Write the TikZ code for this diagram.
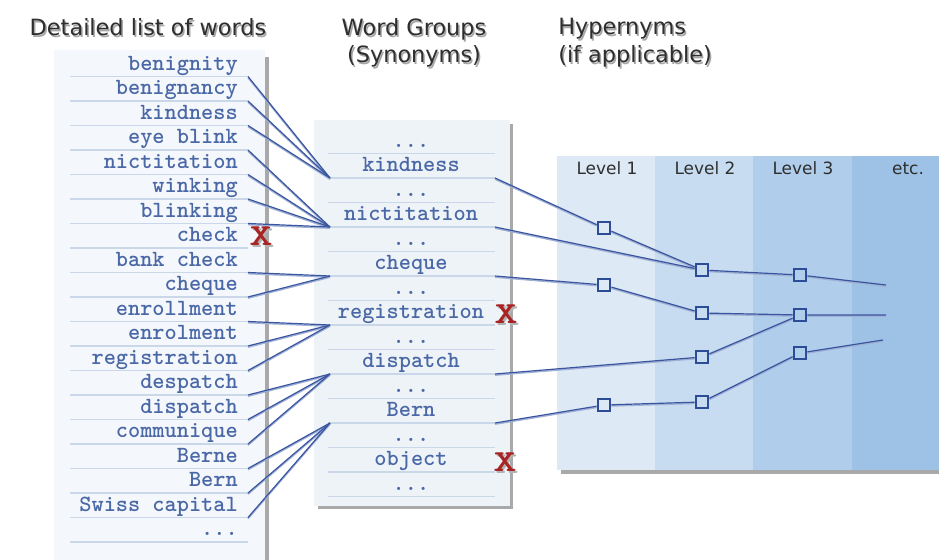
\documentclass[tikz,border=0pt]{standalone}
\usepackage{fontspec}
\setmainfont{DejaVu Sans}
% three monospaced dots, kept in a macro so that \foreach does not read them as a range
\newcommand\wdots{...}
% wide bold cross for discarded entries
\newcommand\crossmark{\scalebox{1.45}[1]{X}}

\definecolor{wordc}{HTML}{4A68A6}
\definecolor{rulec}{HTML}{C9D7E8}
\definecolor{linkc}{HTML}{3A55A0}
\definecolor{linksh}{HTML}{9FB0D4}
\definecolor{sqc}{HTML}{2C4D96}
\definecolor{levA}{HTML}{DDE9F5}
\definecolor{levB}{HTML}{C7DCF0}
\definecolor{levC}{HTML}{B0CEEB}
\definecolor{levD}{HTML}{9DC2E6}
\definecolor{panelL}{HTML}{F4F7FB}
\definecolor{panelM}{HTML}{EEF3F8}
\definecolor{shadowc}{HTML}{A9A9A9}
\definecolor{xred}{HTML}{A82424}
\definecolor{headc}{HTML}{2E2E2E}

\begin{document}
\begin{tikzpicture}[x=0.75pt, y=-0.75pt,
  word/.style={font=\ttfamily\bfseries\fontsize{17.4}{20}\selectfont, text=wordc, inner sep=0pt},
  rule/.style={draw=rulec, line width=0.8pt},
  link/.style={draw=linkc, line width=0.9pt,
    preaction={draw=linksh, line width=1.1pt, transform canvas={yshift=-0.9pt}}},
  hyper/.style={draw=sqc, line width=1.6pt, minimum size=9.5pt, inner sep=0pt},
  head/.style={font=\fontsize{16.8}{20}\selectfont, text=headc, inner sep=0pt, anchor=base},
  headsh/.style={head, text=black!35},
  level/.style={font=\fontsize{12.7}{15}\selectfont, text=headc, inner sep=0pt, anchor=base},
  xmark/.style={font=\ttfamily\bfseries\fontsize{23}{23}\selectfont, text=xred, inner sep=0pt},
  xmarksh/.style={xmark, text=black!30}]

\useasboundingbox (0,0) rectangle (939,560);
\fill[white] (0,0) rectangle (939,560);

% headings with a soft drop shadow
\node[headsh] (hdA-s) at (149.5,37.5) {Detailed list of words};
\node[head]   (hdA)   at (148,36)     {Detailed list of words};
\node[headsh] (hdB-s) at (415.5,37.5) {Word Groups};
\node[head]   (hdB)   at (414,36)     {Word Groups};
\node[headsh] (hdC-s) at (415.5,64.5) {(Synonyms)};
\node[head]   (hdC)   at (414,63)     {(Synonyms)};
\node[headsh, anchor=base west] (hdD-s) at (559.5,36.5) {Hypernyms};
\node[head, anchor=base west]   (hdD)   at (558,35)     {Hypernyms};
\node[headsh, anchor=base west] (hdE-s) at (559.5,64.5) {(if applicable)};
\node[head, anchor=base west]   (hdE)   at (558,63)     {(if applicable)};

% left panel: detailed word list
\fill[shadowc] (59,57) rectangle (269,560);
\fill[panelL] (54,50) rectangle (265,560);
\foreach \t [count=\i from 0] in
  {benignity,benignancy,kindness,eye blink,nictitation,winking,blinking,check,
   bank check,cheque,enrollment,enrolment,registration,despatch,dispatch,
   communique,Berne,Bern,Swiss capital,\wdots}{
  \pgfmathsetmacro\u{76.5+24.5*\i}
  \coordinate (le\i) at (248,\u);
  \draw[rule] (70,\u) -- (le\i);
  \node[word, anchor=base east] (w\i) at (238,\u-6.5) {\t};
}

% middle panel: word groups
\fill[shadowc] (318,124) rectangle (513,509);
\fill[panelM] (314,120) rectangle (510,506);
\foreach \t [count=\j from 0] in
  {\wdots,kindness,\wdots,nictitation,\wdots,cheque,\wdots,registration,\wdots,
   dispatch,\wdots,Bern,\wdots,object,\wdots}{
  \pgfmathsetmacro\u{153.5+24.5*\j}
  \coordinate (mi\j) at (330,\u);
  \coordinate (mo\j) at (495,\u);
  \draw[rule] (328,\u) -- (mo\j);
  \node[word, anchor=base] (g\j) at (411,\u-6.5) {\t};
}

% discarded entries, each with a faint shadow
\node[xmarksh] (xa-s) at (263,238) {\crossmark};
\node[xmark]   (xa)   at (261,236) {\crossmark};
\node[xmarksh] (xb-s) at (508,316) {\crossmark};
\node[xmark]   (xb)   at (506,314) {\crossmark};
\node[xmarksh] (xc-s) at (507,464) {\crossmark};
\node[xmark]   (xc)   at (505,462) {\crossmark};

% words to groups
\foreach \a/\b in {0/1,1/1,2/1,3/3,4/3,5/3,6/3,8/5,9/5,10/7,11/7,12/7,
                   13/9,14/9,15/9,16/11,17/11,18/11}
  \draw[link] (le\a) -- (mi\b);

% hypernym levels
\fill[shadowc] (561,159) rectangle (939,474);
\fill[levA] (557,156) rectangle (655,470);
\fill[levB] (655,156) rectangle (753,470);
\fill[levC] (753,156) rectangle (852,470);
\fill[levD] (852,156) rectangle (939,470);
\node[level] (lv1) at (607,174) {Level 1};
\node[level] (lv2) at (705,174) {Level 2};
\node[level] (lv3) at (803,174) {Level 3};
\node[level] (lv4) at (908,174) {etc.};

\node[hyper, fill=levA] (h1a) at (604,228) {};
\node[hyper, fill=levA] (h1b) at (604,285) {};
\node[hyper, fill=levA] (h1c) at (604,405) {};
\node[hyper, fill=levB] (h2a) at (702,270) {};
\node[hyper, fill=levB] (h2b) at (702,313) {};
\node[hyper, fill=levB] (h2c) at (702,357) {};
\node[hyper, fill=levB] (h2d) at (702,402) {};
\node[hyper, fill=levC] (h3a) at (800,275) {};
\node[hyper, fill=levC] (h3b) at (800,315) {};
\node[hyper, fill=levC] (h3c) at (800,353) {};
\coordinate (e1) at (886,285);
\coordinate (e2) at (886,315);
\coordinate (e3) at (883,340);

% groups to hypernyms
\draw[link] (mo1) -- (h1a) -- (h2a);
\draw[link] (mo3) -- (h2a) -- (h3a) -- (e1);
\draw[link] (mo5) -- (h1b) -- (h2b) -- (h3b) -- (e2);
\draw[link] (mo9) -- (h2c) -- (h3b);
\draw[link] (mo11) -- (h1c) -- (h2d) -- (h3c) -- (e3);

\end{tikzpicture}
\end{document}
